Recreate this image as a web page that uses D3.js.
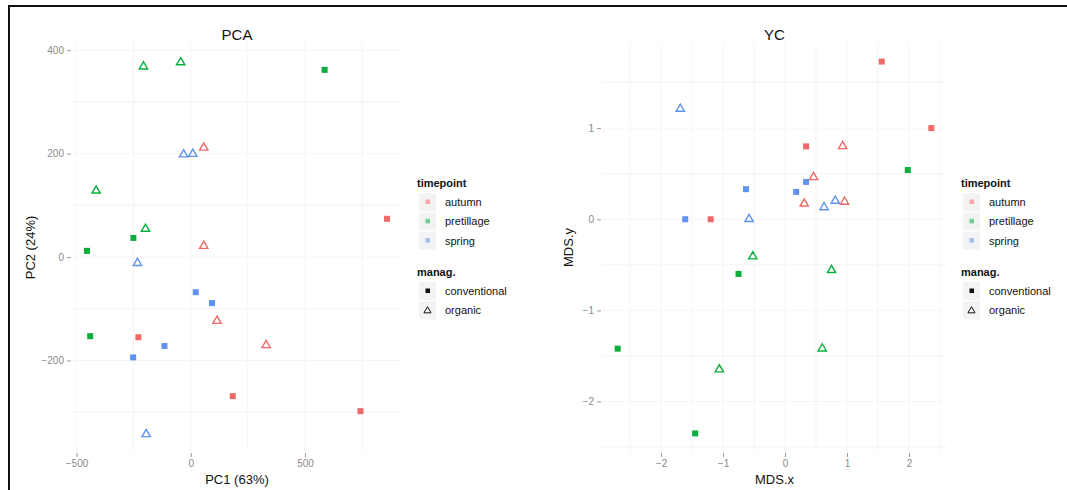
<!DOCTYPE html>
<html>
<head>
<meta charset="utf-8">
<script src="https://cdn.jsdelivr.net/npm/d3@7"></script>
<style>
  html, body { margin: 0; padding: 0; background: #fff; }
  svg { display: block; font-family: "Liberation Sans", Arial, sans-serif; }
</style>
</head>
<body>
<div id="vis"></div>
<script>
// sample order: autumn conv, autumn org, pretillage conv, pretillage org, spring conv, spring org
var timepoint = ["autumn","autumn","autumn","autumn","autumn","autumn","autumn","autumn",
                 "pretillage","pretillage","pretillage","pretillage","pretillage","pretillage","pretillage","pretillage",
                 "spring","spring","spring","spring","spring","spring","spring","spring"];
var manag = ["conventional","conventional","conventional","conventional","organic","organic","organic","organic",
             "conventional","conventional","conventional","conventional","organic","organic","organic","organic",
             "conventional","conventional","conventional","conventional","organic","organic","organic","organic"];

var pcaX = [859, -229, 184, 743,   57, 57, 115, 330,
            586, -251, -454, -440, -207, -44, -414, -198,
            22, 93, -115, -252,    -31, 9, -233, -195];
var pcaY = [74, -155, -269, -298,  213, 23, -122, -169,
            362, 37, 12, -153,     370, 378, 130, 56,
            -68, -89, -172, -194,  200, 201, -10, -341];

var mdsX = [1.56, 2.36, 0.34, -1.20,   0.93, 0.46, 0.31, 0.96,
            1.98, -0.75, -2.70, -1.45, -0.52, 0.75, 0.60, -1.06,
            0.34, -0.63, 0.18, -1.61,  -1.69, 0.63, 0.81, -0.58];
var mdsY = [1.73, 1.00, 0.80, 0.00,    0.81, 0.47, 0.18, 0.20,
            0.54, -0.60, -1.42, -2.35, -0.40, -0.55, -1.41, -1.64,
            0.41, 0.33, 0.30, 0.00,    1.22, 0.14, 0.21, 0.01];

var timeLevels = ["autumn", "pretillage", "spring"];
var managLevels = ["conventional", "organic"];
var timeColors = ["#EE6A68", "#0AAE3C", "#5F93F2"];

var pcaXTicks = [-500, 0, 500], pcaXMinor = [-250, 250, 750];
var pcaYTicks = [-200, 0, 200, 400], pcaYMinor = [-300, -100, 100, 300];
var mdsXTicks = [-2, -1, 0, 1, 2], mdsXMinor = [-2.5, -1.5, -0.5, 0.5, 1.5, 2.5];
var mdsYTicks = [-2, -1, 0, 1], mdsYMinor = [-2.5, -1.5, -0.5, 0.5, 1.5];

var W = 1067, H = 490;
var svg = d3.select("#vis").append("svg").attr("width", W).attr("height", H);

// outer frame (top + left edge only visible)
svg.append("line").attr("x1", 8).attr("x2", W).attr("y1", 6).attr("y2", 6)
  .attr("stroke", "#111").attr("stroke-width", 2);
svg.append("line").attr("x1", 9).attr("x2", 9).attr("y1", 6).attr("y2", H)
  .attr("stroke", "#111").attr("stroke-width", 2);

var color = d3.scaleOrdinal().domain(timeLevels).range(timeColors);

// ggplot-like 5% expansion
function expand(vals) {
  var e = d3.extent(vals), d = (e[1] - e[0]) * 0.05;
  return [e[0] - d, e[1] + d];
}

function fmt(v) { return String(v).replace("-", "\u2212"); }

function drawPanel(opt) {
  var g = svg.append("g");
  var x = d3.scaleLinear().domain(expand(opt.xs)).range([opt.left, opt.right]);
  var y = d3.scaleLinear().domain(expand(opt.ys)).range([opt.bottom, opt.top]);

  // grid
  g.selectAll(".vmin").data(opt.xMinor).enter().append("line")
    .attr("x1", d => x(d)).attr("x2", d => x(d)).attr("y1", opt.top).attr("y2", opt.bottom)
    .attr("stroke", "#f3f3f3").attr("stroke-width", 1);
  g.selectAll(".hmin").data(opt.yMinor).enter().append("line")
    .attr("y1", d => y(d)).attr("y2", d => y(d)).attr("x1", opt.left).attr("x2", opt.right)
    .attr("stroke", "#f3f3f3").attr("stroke-width", 1);
  g.selectAll(".vmaj").data(opt.xTicks).enter().append("line")
    .attr("x1", d => x(d)).attr("x2", d => x(d)).attr("y1", opt.top).attr("y2", opt.bottom)
    .attr("stroke", "#f5f5f5").attr("stroke-width", 1);
  g.selectAll(".hmaj").data(opt.yTicks).enter().append("line")
    .attr("y1", d => y(d)).attr("y2", d => y(d)).attr("x1", opt.left).attr("x2", opt.right)
    .attr("stroke", "#f5f5f5").attr("stroke-width", 1);

  // axes
  var xAxis = d3.axisBottom(x).tickValues(opt.xTicks).tickSize(4).tickPadding(3).tickFormat(fmt);
  var yAxis = d3.axisLeft(y).tickValues(opt.yTicks).tickSize(4).tickPadding(3).tickFormat(fmt);
  var gx = g.append("g").attr("transform", "translate(0," + (opt.bottom + 1) + ")").call(xAxis);
  var gy = g.append("g").attr("transform", "translate(" + (opt.left - 1) + ",0)").call(yAxis);
  [gx, gy].forEach(function (a) {
    a.select(".domain").remove();
    a.selectAll("line").attr("stroke", "#999");
    a.selectAll("text").attr("fill", "#8a8a8a").style("font-size", "10px");
  });

  // points
  var idx = d3.range(opt.xs.length);
  g.selectAll(".sq").data(idx.filter(i => manag[i] === "conventional")).enter().append("rect")
    .attr("x", i => x(opt.xs[i]) - 3).attr("y", i => y(opt.ys[i]) - 3)
    .attr("width", 6).attr("height", 6)
    .attr("fill", i => color(timepoint[i]));
  var tri = d3.symbol().type(d3.symbolTriangle).size(30);
  g.selectAll(".tr").data(idx.filter(i => manag[i] === "organic")).enter().append("path")
    .attr("d", tri)
    .attr("transform", i => "translate(" + x(opt.xs[i]) + "," + (y(opt.ys[i]) + 0.8) + ")")
    .attr("fill", "none").attr("stroke", i => color(timepoint[i])).attr("stroke-width", 1.4);

  // titles
  var cx = (opt.left + opt.right) / 2;
  g.append("text").attr("x", cx).attr("y", 40).attr("text-anchor", "middle")
    .style("font-size", "15px").attr("fill", "#111").text(opt.title);
  g.append("text").attr("x", cx).attr("y", 484).attr("text-anchor", "middle")
    .style("font-size", "13px").attr("fill", "#111").text(opt.xLabel);
  g.append("text").attr("transform", "translate(" + opt.yLabelX + "," + ((opt.top + opt.bottom) / 2) + ") rotate(-90)")
    .attr("text-anchor", "middle").style("font-size", "13px").attr("fill", "#111").text(opt.yLabel);

  // legend
  var lg = g.append("g").attr("transform", "translate(" + opt.legendX + ",0)");
  lg.append("text").attr("x", 0).attr("y", 187).style("font-size", "11px").style("font-weight", "bold")
    .attr("fill", "#111").text("timepoint");
  timeLevels.forEach(function (t, k) {
    var cy = 202 + k * 19.3;
    lg.append("rect").attr("x", 2).attr("y", cy - 9).attr("width", 17).attr("height", 18).attr("fill", "#f3f3f3");
    lg.append("rect").attr("x", 8.5).attr("y", cy - 2.5).attr("width", 4.5).attr("height", 4.5)
      .attr("fill", color(t)).attr("opacity", 0.55);
    lg.append("text").attr("x", 28).attr("y", cy + 4).style("font-size", "11px").attr("fill", "#111").text(t);
  });
  lg.append("text").attr("x", 0).attr("y", 276).style("font-size", "11px").style("font-weight", "bold")
    .attr("fill", "#111").text("manag.");
  managLevels.forEach(function (m, k) {
    var cy = 291 + k * 19.3;
    lg.append("rect").attr("x", 2).attr("y", cy - 9).attr("width", 17).attr("height", 18).attr("fill", "#f3f3f3");
    if (m === "conventional") {
      lg.append("rect").attr("x", 8.5).attr("y", cy - 2.5).attr("width", 4.5).attr("height", 4.5).attr("fill", "#111");
    } else {
      lg.append("path").attr("d", d3.symbol().type(d3.symbolTriangle).size(22))
        .attr("transform", "translate(10.5," + (cy + 0.5) + ")")
        .attr("fill", "none").attr("stroke", "#111").attr("stroke-width", 1);
    }
    lg.append("text").attr("x", 28).attr("y", cy + 4).style("font-size", "11px").attr("fill", "#111").text(m);
  });
}

drawPanel({
  xs: pcaX, ys: pcaY, left: 72, right: 402, top: 43, bottom: 452,
  xTicks: pcaXTicks, xMinor: pcaXMinor, yTicks: pcaYTicks, yMinor: pcaYMinor,
  title: "PCA", xLabel: "PC1 (63%)", yLabel: "PC2 (24%)", yLabelX: 35, legendX: 417
});
drawPanel({
  xs: mdsX, ys: mdsY, left: 602, right: 947, top: 43, bottom: 452,
  xTicks: mdsXTicks, xMinor: mdsXMinor, yTicks: mdsYTicks, yMinor: mdsYMinor,
  title: "YC", xLabel: "MDS.x", yLabel: "MDS.y", yLabelX: 573, legendX: 961
});
</script>
</body>
</html>
